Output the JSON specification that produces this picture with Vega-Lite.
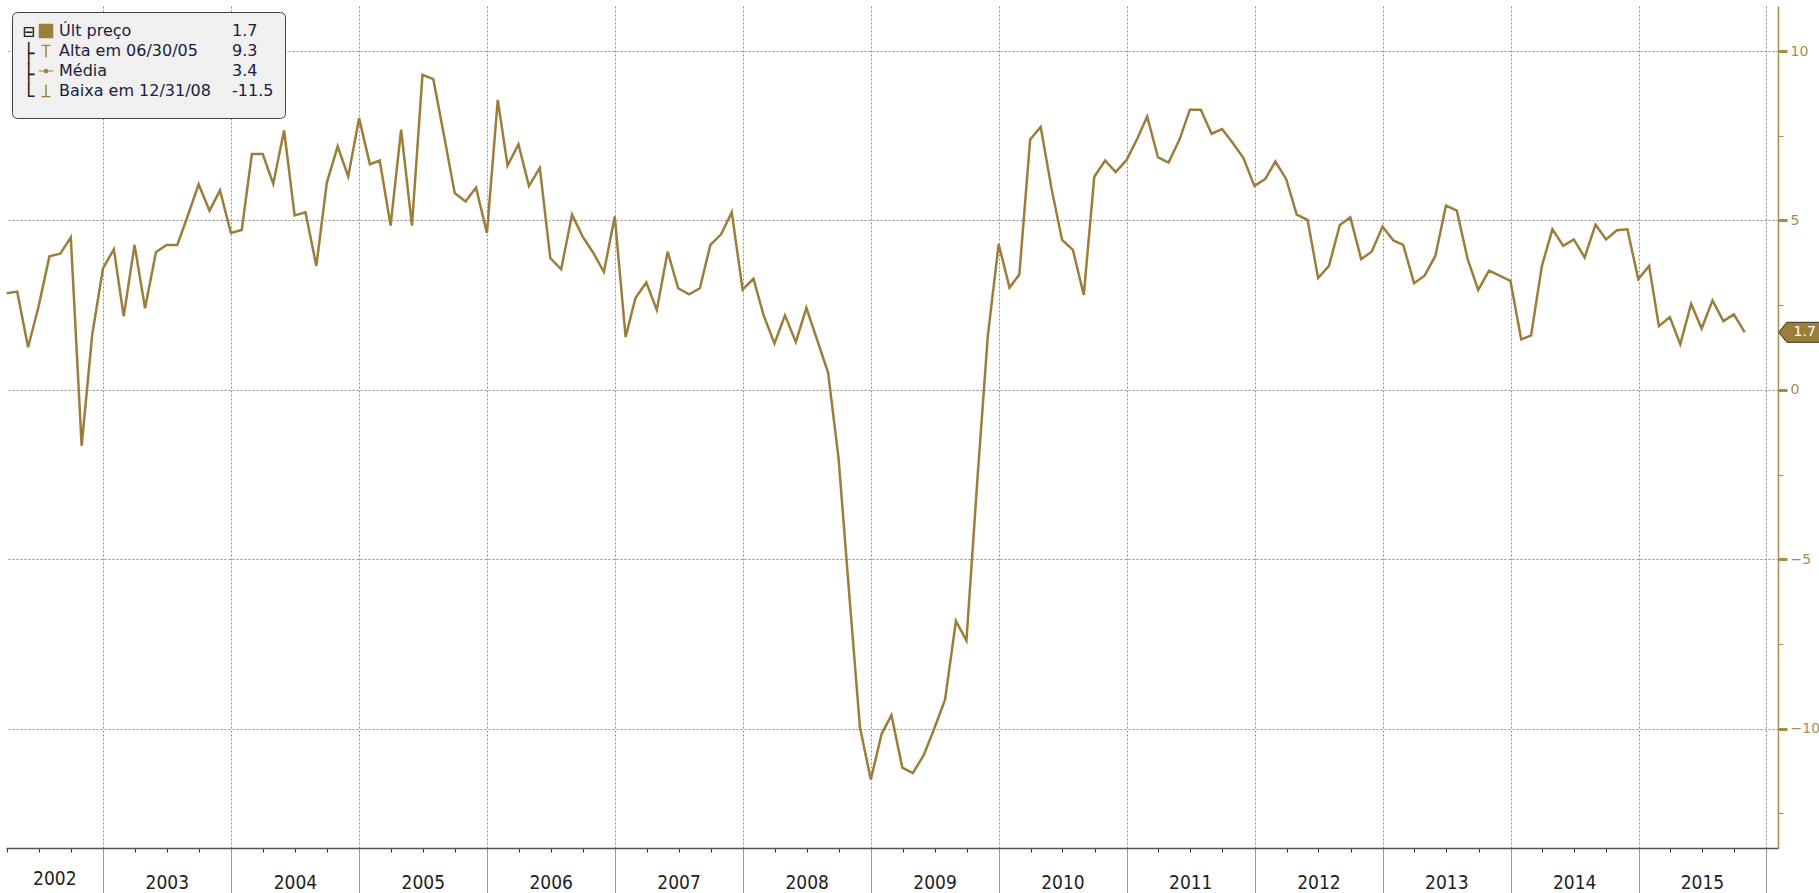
{
  "$schema": "https://vega.github.io/schema/vega-lite/v6.json",
  "width": 1772,
  "height": 842,
  "autosize": {"type": "none"},
  "padding": {"left": 6, "top": 6, "right": 41, "bottom": 45},
  "background": "white",
  "config": {"view": {"stroke": null}},
  "data": {"values": [
    {"date": "2002-03-31", "value": 2.85}, {"date": "2002-04-30", "value": 2.9}, {"date": "2002-05-31", "value": 1.26}, {"date": "2002-06-30", "value": 2.46}, {"date": "2002-07-31", "value": 3.94}, {"date": "2002-08-31", "value": 4.02}, {"date": "2002-09-30", "value": 4.5}, {"date": "2002-10-31", "value": -1.65}, {"date": "2002-11-30", "value": 1.62}, {"date": "2002-12-31", "value": 3.59},
    {"date": "2003-01-31", "value": 4.15}, {"date": "2003-02-28", "value": 2.17}, {"date": "2003-03-31", "value": 4.28}, {"date": "2003-04-30", "value": 2.41}, {"date": "2003-05-31", "value": 4.06}, {"date": "2003-06-30", "value": 4.28}, {"date": "2003-07-31", "value": 4.28}, {"date": "2003-08-31", "value": 5.17}, {"date": "2003-09-30", "value": 6.07}, {"date": "2003-10-31", "value": 5.29}, {"date": "2003-11-30", "value": 5.89}, {"date": "2003-12-31", "value": 4.63},
    {"date": "2004-01-31", "value": 4.72}, {"date": "2004-02-29", "value": 6.96}, {"date": "2004-03-31", "value": 6.96}, {"date": "2004-04-30", "value": 6.08}, {"date": "2004-05-31", "value": 7.66}, {"date": "2004-06-30", "value": 5.15}, {"date": "2004-07-31", "value": 5.24}, {"date": "2004-08-31", "value": 3.66}, {"date": "2004-09-30", "value": 6.12}, {"date": "2004-10-31", "value": 7.19}, {"date": "2004-11-30", "value": 6.3}, {"date": "2004-12-31", "value": 8.02},
    {"date": "2005-01-31", "value": 6.66}, {"date": "2005-02-28", "value": 6.77}, {"date": "2005-03-31", "value": 4.85}, {"date": "2005-04-30", "value": 7.68}, {"date": "2005-05-31", "value": 4.85}, {"date": "2005-06-30", "value": 9.3}, {"date": "2005-07-31", "value": 9.17}, {"date": "2005-08-31", "value": 7.48}, {"date": "2005-09-30", "value": 5.81}, {"date": "2005-10-31", "value": 5.56}, {"date": "2005-11-30", "value": 5.97}, {"date": "2005-12-31", "value": 4.63},
    {"date": "2006-01-31", "value": 8.56}, {"date": "2006-02-28", "value": 6.62}, {"date": "2006-03-31", "value": 7.25}, {"date": "2006-04-30", "value": 6.02}, {"date": "2006-05-31", "value": 6.55}, {"date": "2006-06-30", "value": 3.89}, {"date": "2006-07-31", "value": 3.56}, {"date": "2006-08-31", "value": 5.17}, {"date": "2006-09-30", "value": 4.53}, {"date": "2006-10-31", "value": 4.04}, {"date": "2006-11-30", "value": 3.48}, {"date": "2006-12-31", "value": 5.12},
    {"date": "2007-01-31", "value": 1.56}, {"date": "2007-02-28", "value": 2.71}, {"date": "2007-03-31", "value": 3.17}, {"date": "2007-04-30", "value": 2.36}, {"date": "2007-05-31", "value": 4.08}, {"date": "2007-06-30", "value": 3.0}, {"date": "2007-07-31", "value": 2.82}, {"date": "2007-08-31", "value": 3.0}, {"date": "2007-09-30", "value": 4.28}, {"date": "2007-10-31", "value": 4.6}, {"date": "2007-11-30", "value": 5.24}, {"date": "2007-12-31", "value": 2.96},
    {"date": "2008-01-31", "value": 3.28}, {"date": "2008-02-29", "value": 2.2}, {"date": "2008-03-31", "value": 1.37}, {"date": "2008-04-30", "value": 2.2}, {"date": "2008-05-31", "value": 1.41}, {"date": "2008-06-30", "value": 2.42}, {"date": "2008-07-31", "value": 1.47}, {"date": "2008-08-31", "value": 0.51}, {"date": "2008-09-30", "value": -2.02}, {"date": "2008-10-31", "value": -6.11}, {"date": "2008-11-30", "value": -9.96}, {"date": "2008-12-31", "value": -11.5},
    {"date": "2009-01-31", "value": -10.15}, {"date": "2009-02-28", "value": -9.6}, {"date": "2009-03-31", "value": -11.15}, {"date": "2009-04-30", "value": -11.31}, {"date": "2009-05-31", "value": -10.78}, {"date": "2009-06-30", "value": -10.0}, {"date": "2009-07-31", "value": -9.14}, {"date": "2009-08-31", "value": -6.82}, {"date": "2009-09-30", "value": -7.4}, {"date": "2009-10-31", "value": -2.69}, {"date": "2009-11-30", "value": 1.59}, {"date": "2009-12-31", "value": 4.3},
    {"date": "2010-01-31", "value": 3.02}, {"date": "2010-02-28", "value": 3.4}, {"date": "2010-03-31", "value": 7.39}, {"date": "2010-04-30", "value": 7.76}, {"date": "2010-05-31", "value": 5.94}, {"date": "2010-06-30", "value": 4.43}, {"date": "2010-07-31", "value": 4.13}, {"date": "2010-08-31", "value": 2.8}, {"date": "2010-09-30", "value": 6.29}, {"date": "2010-10-31", "value": 6.77}, {"date": "2010-11-30", "value": 6.43}, {"date": "2010-12-31", "value": 6.78},
    {"date": "2011-01-31", "value": 7.42}, {"date": "2011-02-28", "value": 8.07}, {"date": "2011-03-31", "value": 6.86}, {"date": "2011-04-30", "value": 6.71}, {"date": "2011-05-31", "value": 7.38}, {"date": "2011-06-30", "value": 8.27}, {"date": "2011-07-31", "value": 8.27}, {"date": "2011-08-31", "value": 7.56}, {"date": "2011-09-30", "value": 7.7}, {"date": "2011-10-31", "value": 7.28}, {"date": "2011-11-30", "value": 6.84}, {"date": "2011-12-31", "value": 6.02},
    {"date": "2012-01-31", "value": 6.22}, {"date": "2012-02-29", "value": 6.74}, {"date": "2012-03-31", "value": 6.22}, {"date": "2012-04-30", "value": 5.17}, {"date": "2012-05-31", "value": 5.02}, {"date": "2012-06-30", "value": 3.3}, {"date": "2012-07-31", "value": 3.66}, {"date": "2012-08-31", "value": 4.87}, {"date": "2012-09-30", "value": 5.09}, {"date": "2012-10-31", "value": 3.86}, {"date": "2012-11-30", "value": 4.08}, {"date": "2012-12-31", "value": 4.82},
    {"date": "2013-01-31", "value": 4.41}, {"date": "2013-02-28", "value": 4.28}, {"date": "2013-03-31", "value": 3.15}, {"date": "2013-04-30", "value": 3.37}, {"date": "2013-05-31", "value": 3.96}, {"date": "2013-06-30", "value": 5.44}, {"date": "2013-07-31", "value": 5.29}, {"date": "2013-08-31", "value": 3.86}, {"date": "2013-09-30", "value": 2.95}, {"date": "2013-10-31", "value": 3.52}, {"date": "2013-11-30", "value": 3.37}, {"date": "2013-12-31", "value": 3.22},
    {"date": "2014-01-31", "value": 1.49}, {"date": "2014-02-28", "value": 1.61}, {"date": "2014-03-31", "value": 3.66}, {"date": "2014-04-30", "value": 4.74}, {"date": "2014-05-31", "value": 4.25}, {"date": "2014-06-30", "value": 4.44}, {"date": "2014-07-31", "value": 3.91}, {"date": "2014-08-31", "value": 4.88}, {"date": "2014-09-30", "value": 4.44}, {"date": "2014-10-31", "value": 4.71}, {"date": "2014-11-30", "value": 4.74}, {"date": "2014-12-31", "value": 3.27},
    {"date": "2015-01-31", "value": 3.66}, {"date": "2015-02-28", "value": 1.88}, {"date": "2015-03-31", "value": 2.15}, {"date": "2015-04-30", "value": 1.35}, {"date": "2015-05-31", "value": 2.54}, {"date": "2015-06-30", "value": 1.81}, {"date": "2015-07-31", "value": 2.64}, {"date": "2015-08-31", "value": 2.03}, {"date": "2015-09-30", "value": 2.23}, {"date": "2015-10-31", "value": 1.7}
  ]},
  "encoding": {
    "x": {
      "field": "date", "type": "temporal",
      "scale": {"domain": [{"year": 2002, "month": 3, "date": 29}, {"year": 2016, "month": 2, "date": 3}]},
      "axis": {
        "title": null,
        "values": [
          {"year": 2002, "month": 4, "date": 1}, {"year": 2002, "month": 7, "date": 1}, {"year": 2002, "month": 8, "date": 14}, {"year": 2002, "month": 10, "date": 1},
          {"year": 2003, "month": 1, "date": 1}, {"year": 2003, "month": 4, "date": 1}, {"year": 2003, "month": 7, "date": 1}, {"year": 2003, "month": 10, "date": 1},
          {"year": 2004, "month": 1, "date": 1}, {"year": 2004, "month": 4, "date": 1}, {"year": 2004, "month": 7, "date": 1}, {"year": 2004, "month": 10, "date": 1},
          {"year": 2005, "month": 1, "date": 1}, {"year": 2005, "month": 4, "date": 1}, {"year": 2005, "month": 7, "date": 1}, {"year": 2005, "month": 10, "date": 1},
          {"year": 2006, "month": 1, "date": 1}, {"year": 2006, "month": 4, "date": 1}, {"year": 2006, "month": 7, "date": 1}, {"year": 2006, "month": 10, "date": 1},
          {"year": 2007, "month": 1, "date": 1}, {"year": 2007, "month": 4, "date": 1}, {"year": 2007, "month": 7, "date": 1}, {"year": 2007, "month": 10, "date": 1},
          {"year": 2008, "month": 1, "date": 1}, {"year": 2008, "month": 4, "date": 1}, {"year": 2008, "month": 7, "date": 1}, {"year": 2008, "month": 10, "date": 1},
          {"year": 2009, "month": 1, "date": 1}, {"year": 2009, "month": 4, "date": 1}, {"year": 2009, "month": 7, "date": 1}, {"year": 2009, "month": 10, "date": 1},
          {"year": 2010, "month": 1, "date": 1}, {"year": 2010, "month": 4, "date": 1}, {"year": 2010, "month": 7, "date": 1}, {"year": 2010, "month": 10, "date": 1},
          {"year": 2011, "month": 1, "date": 1}, {"year": 2011, "month": 4, "date": 1}, {"year": 2011, "month": 7, "date": 1}, {"year": 2011, "month": 10, "date": 1},
          {"year": 2012, "month": 1, "date": 1}, {"year": 2012, "month": 4, "date": 1}, {"year": 2012, "month": 7, "date": 1}, {"year": 2012, "month": 10, "date": 1},
          {"year": 2013, "month": 1, "date": 1}, {"year": 2013, "month": 4, "date": 1}, {"year": 2013, "month": 7, "date": 1}, {"year": 2013, "month": 10, "date": 1},
          {"year": 2014, "month": 1, "date": 1}, {"year": 2014, "month": 4, "date": 1}, {"year": 2014, "month": 7, "date": 1}, {"year": 2014, "month": 10, "date": 1},
          {"year": 2015, "month": 1, "date": 1}, {"year": 2015, "month": 4, "date": 1}, {"year": 2015, "month": 7, "date": 1}, {"year": 2015, "month": 10, "date": 1},
          {"year": 2016, "month": 1, "date": 1}
        ],
        "labelExpr": "((month(datum.value) == 6 && date(datum.value) == 1 && year(datum.value) > 2002) || (month(datum.value) == 7 && date(datum.value) == 14)) ? timeFormat(datum.value, '%Y') : ''",
        "labelOverlap": false,
        "labelFlush": false,
        "labelBound": false,
        "labelFont": "Liberation Sans Narrow, DejaVu Sans Condensed, sans-serif",
        "labelFontSize": 19,
        "labelColor": "#222222",
        "labelPadding": 21,
        "labelBaseline": "top",
        "domainColor": "#555555",
        "domainWidth": 1.5,
        "tickSize": {"condition": [{"test": "month(datum.value) == 0 && date(datum.value) == 1", "value": 45}, {"test": "date(datum.value) != 1", "value": 0}], "value": 4},
        "tickColor": {"condition": {"test": "month(datum.value) == 0 && date(datum.value) == 1", "value": "#9a9a9a"}, "value": "#333333"},
        "tickWidth": 1,
        "grid": true,
        "gridDash": [2, 2],
        "gridColor": "#8c8c8c",
        "gridWidth": 1,
        "gridOpacity": {"condition": {"test": "month(datum.value) == 0 && date(datum.value) == 1", "value": 1}, "value": 0}
      }
    },
    "y": {
      "field": "value", "type": "quantitative",
      "scale": {"domain": [-13.52, 11.33], "nice": false, "zero": false},
      "axis": {
        "title": null,
        "orient": "right",
        "values": [-12.5, -10, -7.5, -5, -2.5, 0, 2.5, 5, 7.5, 10],
        "labelExpr": "datum.value % 5 == 0 ? format(datum.value, 'd') : ''",
        "labelFont": "DejaVu Sans",
        "labelFontSize": 14,
        "labelColor": "#a88d52",
        "labelAlign": "left",
        "labelBaseline": "middle",
        "labelPadding": 3,
        "domainColor": "#a68b4f",
        "domainWidth": 1.5,
        "tickColor": "#a68b4f",
        "tickSize": {"condition": {"test": "datum.value % 5 == 0", "value": 9}, "value": 5},
        "tickWidth": {"condition": {"test": "datum.value % 5 == 0", "value": 3}, "value": 1},
        "grid": true,
        "gridDash": [2, 2],
        "gridColor": "#8c8c8c",
        "gridWidth": 1,
        "gridOpacity": {"condition": {"test": "datum.value % 5 == 0", "value": 1}, "value": 0}
      }
    }
  },
  "layer": [
    {
      "mark": {"type": "line", "color": "#9c7e3c", "strokeWidth": 2.5, "interpolate": "linear"}
    },
    {
      "data": {"values": []},
      "mark": {"type": "point", "filled": true, "color": "#9b7d3c", "fill": "#9b7d3c", "opacity": 1},
      "encoding": {
        "shape": {
          "field": "serie", "type": "nominal",
          "scale": {
            "domain": ["Últ preço", "Alta em 06/30/05", "Média", "Baixa em 12/31/08", "1.7", "9.3", "3.4", "-11.5"],
            "range": [
              "square",
              "M-0.6,-0.85H0.6V-0.68H0.1V0.85H-0.1V-0.68H-0.6Z",
              "M-1,-0.08H1V0.08H-1Z M0.32,0A0.32,0.32,0,1,1,-0.32,0A0.32,0.32,0,1,1,0.32,0Z",
              "M-0.1,-0.85H0.1V0.68H0.6V0.85H-0.6V0.68H-0.1Z",
              "M0,0", "M0,0", "M0,0", "M0,0"
            ]
          },
          "legend": {
            "title": ["⊟", "├", "├", "└"],
            "titleOrient": "left",
            "titleAnchor": "start",
            "titleFont": "DejaVu Sans Mono",
            "titleFontSize": 19,
            "titleFontWeight": "normal",
            "titleLineHeight": 21.5,
            "titleColor": "#222222",
            "titlePadding": 3,
            "orient": "top-left",
            "offset": 6,
            "columns": 2,
            "columnPadding": 0,
            "rowPadding": 4,
            "gridAlign": "each",
            "symbolSize": 210,
            "symbolFillColor": "#9b7d3c",
            "symbolStrokeColor": "#9b7d3c",
            "symbolStrokeWidth": 0,
            "symbolOpacity": 1,
            "symbolOffset": 0,
            "labelOffset": 5,
            "labelFont": "DejaVu Sans",
            "labelFontSize": 16,
            "labelColor": "#1c1c3c",
            "labelLimit": 0,
            "fillColor": "#f0f0f0",
            "strokeColor": "#444444",
            "cornerRadius": 5,
            "padding": 11,
            "encode": {
              "labels": {"update": {"dx": {"signal": "indexof(['1.7', '9.3', '3.4', '-11.5'], datum.value) >= 0 ? -23 : 0"}}}
            }
          }
        }
      }
    },
    {
      "data": {"values": [{"date": "2015-10-31", "value": 1.7}]},
      "mark": {"type": "point", "shape": "M34,0L42,-10L76,-10L76,10L42,10Z", "size": 4, "filled": true, "fill": "#9b7d3c", "stroke": "#3c3020", "strokeWidth": 1, "opacity": 1}
    },
    {
      "data": {"values": [{"date": "2015-10-31", "value": 1.7}]},
      "mark": {"type": "text", "dx": 60, "align": "center", "baseline": "middle", "color": "white", "font": "DejaVu Sans", "fontSize": 14},
      "encoding": {"text": {"field": "value", "type": "quantitative", "format": ".1f"}}
    }
  ]
}
